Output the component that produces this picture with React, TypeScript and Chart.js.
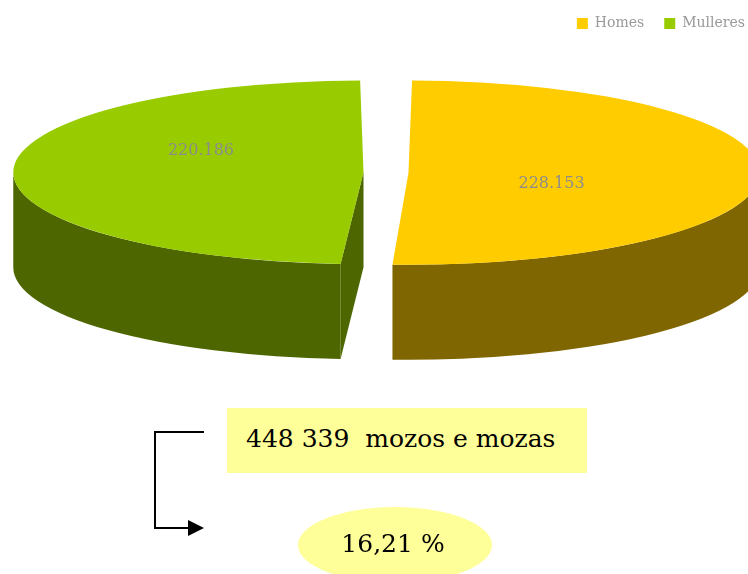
import React, { useEffect, useRef } from "react";
import { Chart, registerables } from "chart.js";

Chart.register(...registerables);

// ---- data ----
const categories: string[] = ["Homes", "Mulleres"];
const values: number[] = [228153, 220186];
const topColors: string[] = ["#FFCC00", "#99CC00"];
const sideColors: string[] = ["#806600", "#4D6600"];
const totalText = "448 339  mozos e mozas";
const shareText = "16,21 %";

// ---- 3D look ----
const TILT = 0.262; // vertical squash of the pie top
const DEPTH = 95; // thickness in px

function fmt(v: number): string {
  return String(v).replace(/\B(?=(\d{3})+(?!\d))/g, ".");
}

function arcGeometry(arc: any) {
  const o = (arc.options.offset || 0) / 4;
  const circ = arc.endAngle - arc.startAngle;
  const fix = 1 - Math.sin(Math.min(Math.PI, circ));
  const r = arc.outerRadius + o * fix;
  const mid = (arc.startAngle + arc.endAngle) / 2;
  const cx = arc.x + Math.cos(mid) * o;
  const cy = arc.y + Math.sin(mid) * o * TILT;
  const ao = (o * fix) / (2 * Math.PI * r);
  return { cx, cy, r, mid, start: arc.startAngle + ao, end: arc.endAngle - ao };
}

const pie3d = {
  id: "pie3d",
  beforeDatasetsDraw(chart: any, _args: any, opts: any) {
    const ctx: CanvasRenderingContext2D = chart.ctx;
    const meta = chart.getDatasetMeta(0);
    const geo = meta.data.map((a: any) => arcGeometry(a));
    const sides: string[] = opts.sideColors;
    ctx.save();
    // radial cut faces
    geo.forEach((g: any, i: number) => {
      ctx.fillStyle = sides[i];
      const edges: [number, boolean][] = [
        [g.start, Math.cos(g.start) < -1e-6],
        [g.end, Math.cos(g.end) > 1e-6],
      ];
      edges.forEach(([ang, vis]) => {
        if (!vis) return;
        const px = g.cx + g.r * Math.cos(ang);
        const py = g.cy + g.r * TILT * Math.sin(ang);
        ctx.beginPath();
        ctx.moveTo(g.cx, g.cy);
        ctx.lineTo(px, py);
        ctx.lineTo(px, py + DEPTH);
        ctx.lineTo(g.cx, g.cy + DEPTH);
        ctx.closePath();
        ctx.fill();
      });
    });
    // outer walls (front half only)
    geo.forEach((g: any, i: number) => {
      ctx.fillStyle = sides[i];
      for (const base of [-2 * Math.PI, 0, 2 * Math.PI]) {
        const a = Math.max(g.start, base);
        const b = Math.min(g.end, base + Math.PI);
        if (b <= a) continue;
        ctx.beginPath();
        ctx.ellipse(g.cx, g.cy, g.r, g.r * TILT, 0, a, b, false);
        ctx.ellipse(g.cx, g.cy + DEPTH, g.r, g.r * TILT, 0, b, a, true);
        ctx.closePath();
        ctx.fill();
      }
    });
    ctx.restore();
    // squash for the top faces drawn by Chart.js
    ctx.save();
    const cy = meta.data[0].y;
    ctx.translate(0, cy);
    ctx.scale(1, TILT);
    ctx.translate(0, -cy);
  },
  afterDatasetsDraw(chart: any, _args: any, opts: any) {
    const ctx: CanvasRenderingContext2D = chart.ctx;
    ctx.restore();
    const meta = chart.getDatasetMeta(0);
    const data = chart.data.datasets[0].data as number[];
    ctx.save();
    ctx.font = "16px 'DejaVu Serif'";
    ctx.fillStyle = "#8c8c8c";
    ctx.textAlign = "center";
    ctx.textBaseline = "middle";
    meta.data.forEach((arc: any, i: number) => {
      const g = arcGeometry(arc);
      const f = opts.labelRadius;
      const nudge = opts.labelNudge[i] || [0, 0];
      const x = g.cx + Math.cos(g.mid) * g.r * f + nudge[0];
      const y = g.cy + Math.sin(g.mid) * g.r * f * TILT + nudge[1];
      ctx.fillText(fmt(data[i]), x, y);
    });
    ctx.restore();
  },
};

export default function App() {
  const canvasRef = useRef<HTMLCanvasElement | null>(null);

  useEffect(() => {
    if (!canvasRef.current) return;
    const chart = new Chart(canvasRef.current, {
      type: "pie",
      data: {
        labels: categories,
        datasets: [
          {
            data: values,
            backgroundColor: topColors,
            borderWidth: 0,
            offset: 90,
            radius: 329,
            clip: false,
          } as any,
        ],
      },
      options: {
        responsive: false,
        animation: false,
        events: [],
        rotation: 0,
        layout: { padding: { left: 24, right: -17, top: -3.5, bottom: 269.5 } },
        plugins: {
          tooltip: { enabled: false },
          legend: {
            position: "top",
            align: "end",
            labels: {
              boxWidth: 11,
              boxHeight: 11,
              padding: 20,
              color: "#999999",
              font: { family: "'DejaVu Serif'", size: 14 },
            },
          },
          pie3d: {
            sideColors,
            labelRadius: 0.43,
            labelNudge: [
              [-8, 10],
              [-12, -20],
            ],
          },
        } as any,
      },
      plugins: [pie3d],
    });
    return () => chart.destroy();
  }, []);

  const serif = "'DejaVu Serif', serif";

  return (
    <div
      style={{
        position: "absolute",
        left: 0,
        top: 0,
        width: 748,
        height: 574,
        overflow: "hidden",
        background: "#ffffff",
      }}
    >
      <canvas
        ref={canvasRef}
        width={748}
        height={574}
        style={{ position: "absolute", left: 0, top: 0, width: 748, height: 574 }}
      />
      <div
        style={{
          position: "absolute",
          left: 227,
          top: 408,
          width: 360,
          height: 65,
          background: "#FFFF99",
        }}
      />
      <span
        style={{
          position: "absolute",
          left: 246,
          top: 426,
          fontFamily: serif,
          fontSize: 25,
          lineHeight: "25px",
          whiteSpace: "pre",
          color: "#000",
        }}
      >
        {totalText}
      </span>
      <div
        style={{
          position: "absolute",
          left: 298,
          top: 507,
          width: 194,
          height: 76,
          borderRadius: "50%",
          background: "#FFFF99",
        }}
      />
      <span
        style={{
          position: "absolute",
          left: 298,
          width: 190,
          top: 531,
          textAlign: "center",
          fontFamily: serif,
          fontSize: 25,
          lineHeight: "25px",
          whiteSpace: "pre",
          color: "#000",
        }}
      >
        {shareText}
      </span>
      <svg
        width={748}
        height={574}
        style={{ position: "absolute", left: 0, top: 0, pointerEvents: "none" }}
      >
        <path d="M204 432 H155 V528 H190" fill="none" stroke="#000" strokeWidth={2} />
        <polygon points="188,520 204,528 188,536" fill="#000" />
      </svg>
    </div>
  );
}
